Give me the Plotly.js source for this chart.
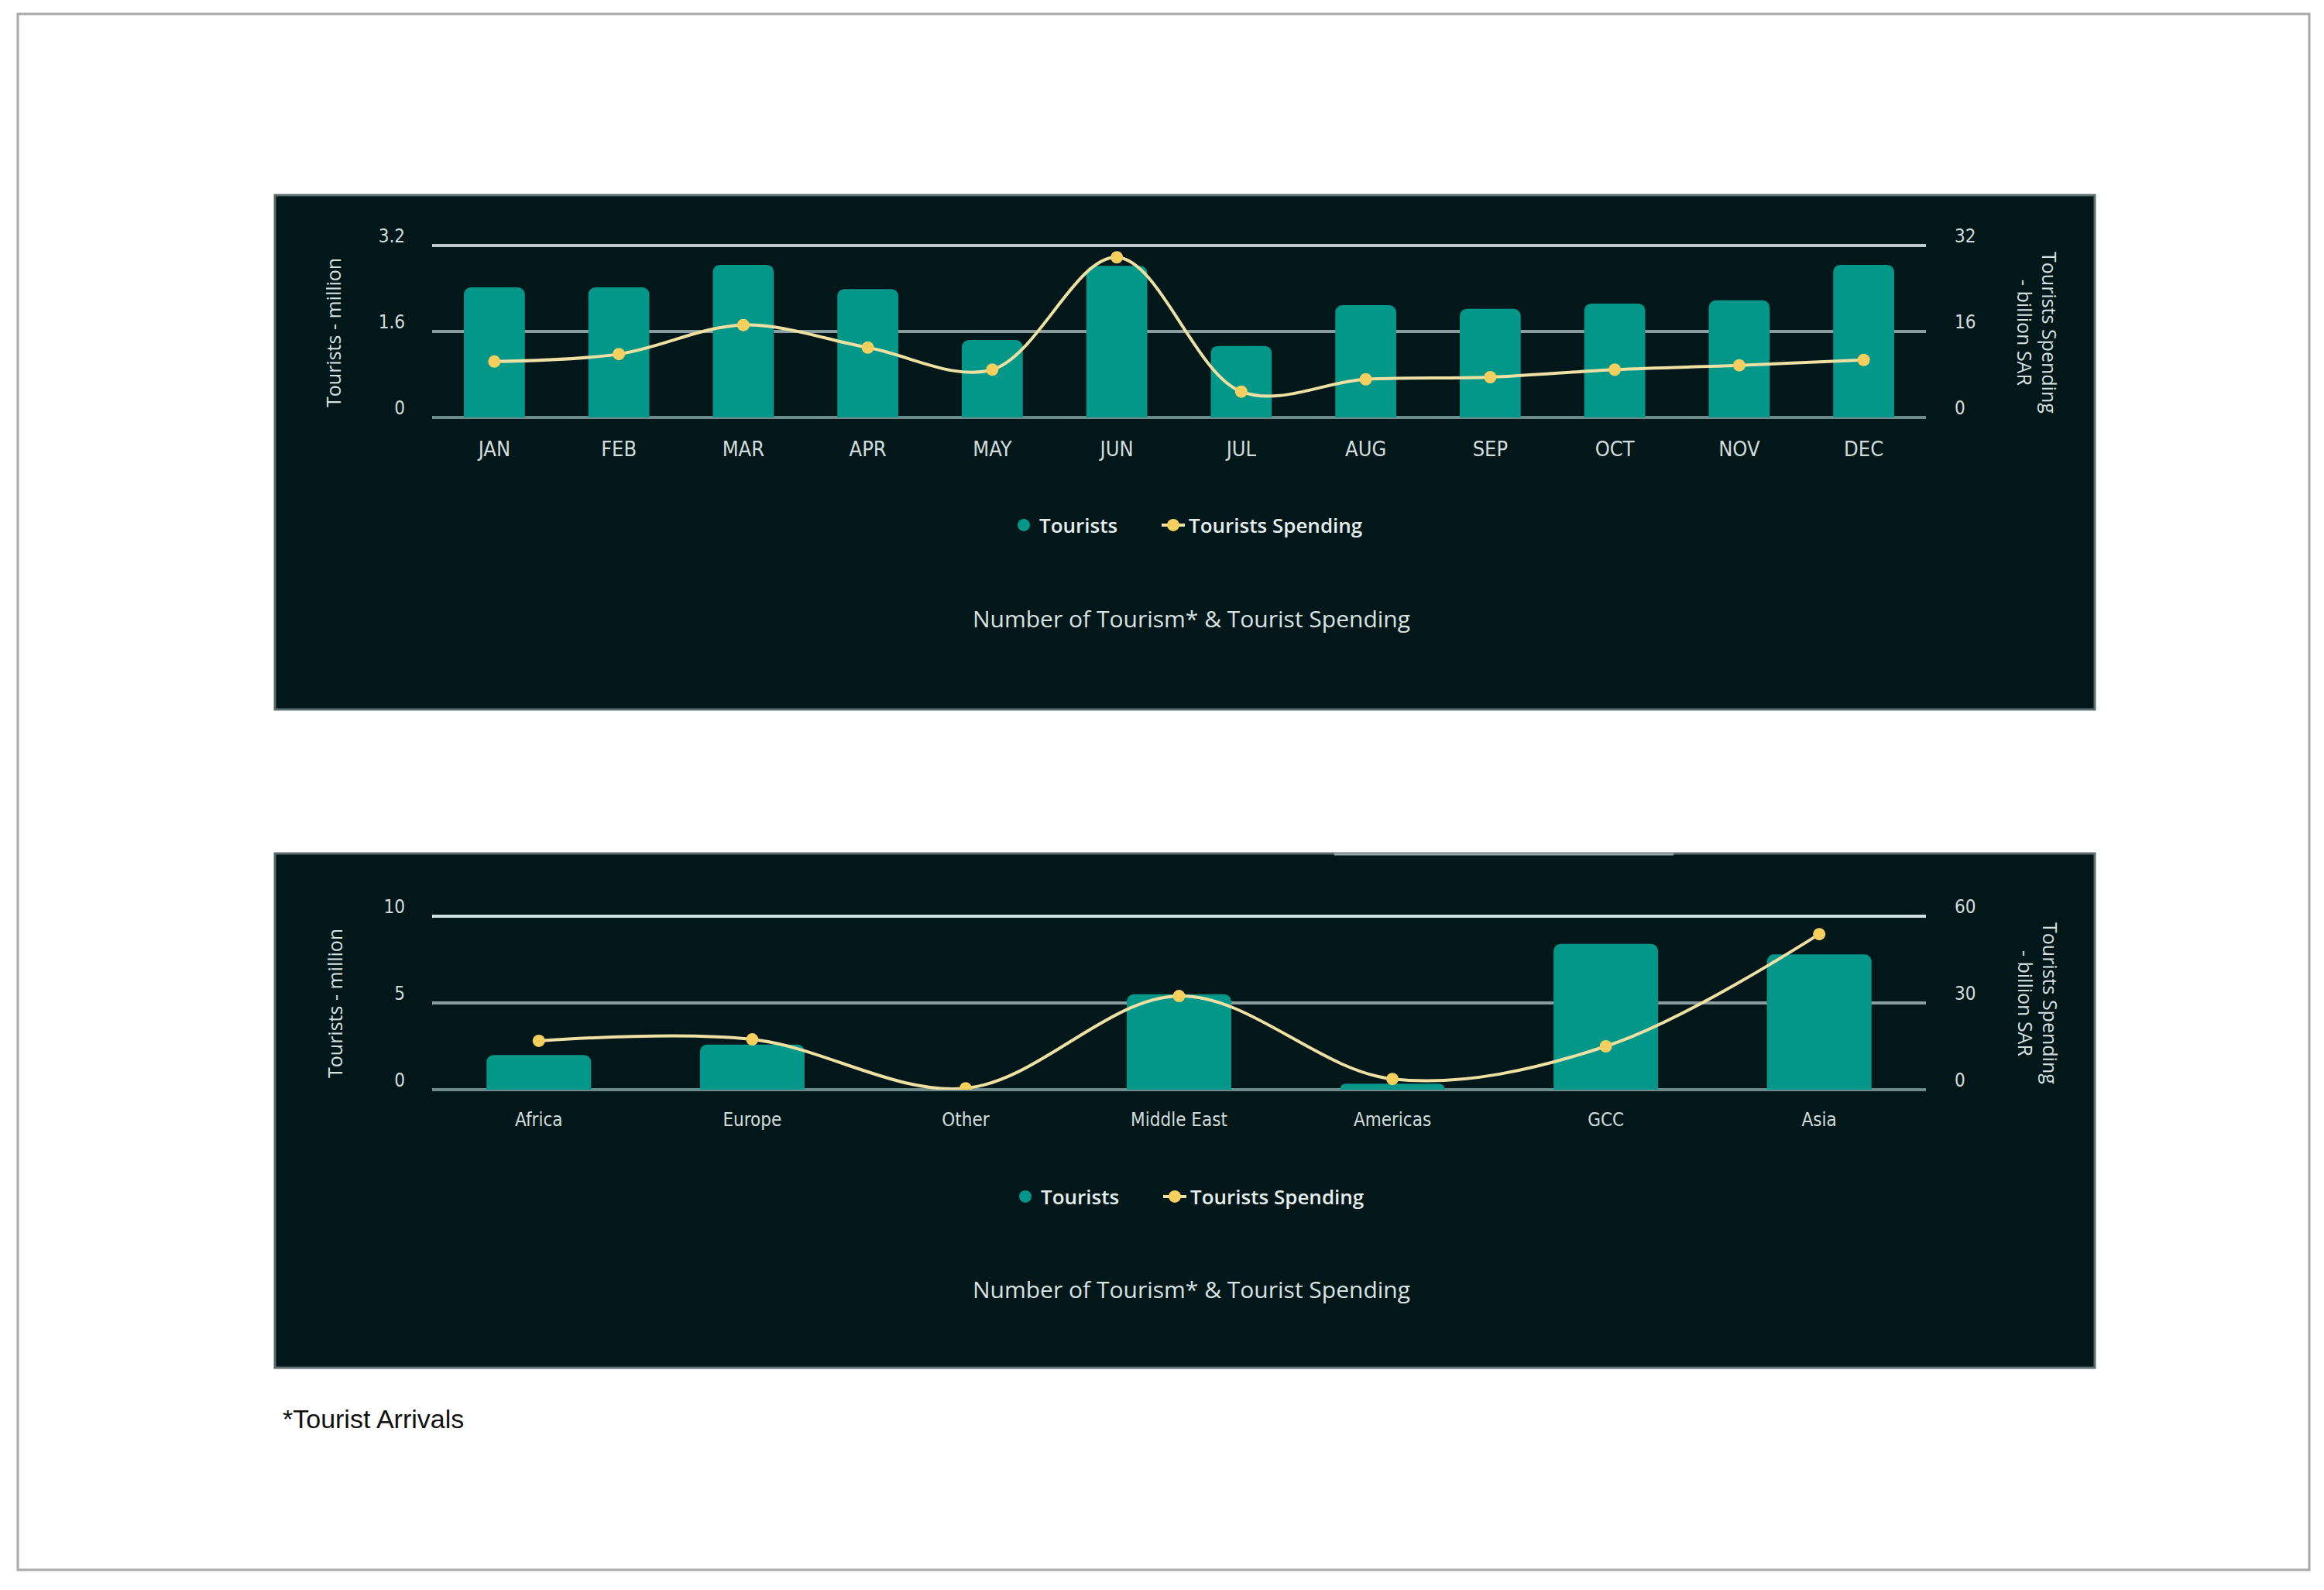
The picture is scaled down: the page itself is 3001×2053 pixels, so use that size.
<!DOCTYPE html>
<html>
<head>
<meta charset="utf-8">
<script src="https://cdn.plot.ly/plotly-3.0.1.min.js"></script>
<style>
  html, body { margin: 0; padding: 0; background: #ffffff; }
  #chart { width: 3001px; height: 2053px; }
</style>
</head>
<body>
<div id="chart"></div>
<script>
// ---------- data ----------
const months = ['JAN','FEB','MAR','APR','MAY','JUN','JUL','AUG','SEP','OCT','NOV','DEC'];
const touristsMonthly = [2.42, 2.42, 2.84, 2.39, 1.44, 2.82, 1.33, 2.09, 2.02, 2.12, 2.18, 2.84];
const spendingMonthly = [10.4, 11.8, 17.2, 13.0, 8.9, 29.8, 4.8, 7.1, 7.5, 8.9, 9.7, 10.7];

const regions = ['Africa','Europe','Other','Middle East','Americas','GCC','Asia'];
const touristsRegion = [2.0, 2.6, 0.0, 5.5, 0.35, 8.4, 7.8];
const spendingRegion = [16.9, 17.4, 0.5, 32.4, 3.7, 15.0, 53.8];

const leftTicksTop = [0, 1.6, 3.2];
const rightTicksTop = [0, 16, 32];
const leftTicksBottom = [0, 5, 10];
const rightTicksBottom = [0, 30, 60];

const legendNames = ['Tourists', 'Tourists Spending'];
const chartTitle = 'Number of Tourism* & Tourist Spending';
const leftTitle = 'Tourists - million';
const rightTitle = 'Tourists Spending<br>- billion SAR';
const footnote = '*Tourist Arrivals';

// ---------- styling ----------
const W = 3001, H = 2053;
const px = v => v / W;
const py = v => 1 - v / H;

const TEAL = '#03978a';
const LINE = '#eee0a2';
const MARK = '#f6cf5e';
const PANEL = '#02171a';
const TICKC = '#d3dcdc';
const GRID = '#8a9e9f';
const ZERO = '#6d8a8c';
const FAM = 'Liberation Sans Narrow, DejaVu Sans Condensed, Open Sans, sans-serif';
const tickFont = {family: FAM, size: 24, color: TICKC, weight: 500};
const monthFont = {family: FAM, size: 27, color: TICKC, weight: 500};
const textFont = {family: 'Open Sans, Noto Sans, sans-serif', size: 25, color: '#d8e0e0'};

const xDom = [px(558), px(2487)];
const yDomTop = [py(539), py(317)];
const yDomBot = [py(1407), py(1183)];

function barTrace(x, y, xa, ya) {
  return {type: 'bar', x: x, y: y, xaxis: xa, yaxis: ya, marker: {color: TEAL},
          name: legendNames[0], showlegend: false, hoverinfo: 'x+y'};
}
function legendDot(xa, ya, legend) {
  return {type: 'scatter', mode: 'markers', x: [null], y: [null], xaxis: xa, yaxis: ya,
          marker: {color: TEAL, size: 30, symbol: 'circle'}, name: legendNames[0],
          legend: legend, showlegend: true};
}
function lineTrace(x, y, xa, ya, legend) {
  return {type: 'scatter', mode: 'lines+markers', x: x, y: y, xaxis: xa, yaxis: ya,
          line: {color: LINE, width: 4, shape: 'spline', smoothing: 1},
          marker: {color: MARK, size: 16},
          name: legendNames[1], legend: legend, showlegend: true};
}

const data = [
  barTrace(months, touristsMonthly, 'x', 'y'),
  legendDot('x', 'y', 'legend'),
  lineTrace(months, spendingMonthly, 'x', 'y2', 'legend2'),
  barTrace(regions, touristsRegion, 'x3', 'y3'),
  legendDot('x3', 'y3', 'legend3'),
  lineTrace(regions, spendingRegion, 'x3', 'y4', 'legend4')
];

function xAxis(anchor, n, font) {
  return {domain: xDom, anchor: anchor, range: [-0.5, n - 0.5], autorange: false,
          showgrid: false, zeroline: false, showline: false,
          ticks: '', tickfont: font, ticklabelstandoff: 22, fixedrange: true};
}
function yLeft(dom, range, vals, extra) {
  return Object.assign({domain: dom, range: range, autorange: false, tickvals: vals, ticktext: vals.map(String),
          showgrid: true, gridcolor: GRID, gridwidth: 4, zeroline: true, zerolinecolor: ZERO,
          zerolinewidth: 4, showline: false, ticks: '', tickfont: tickFont,
          ticklabelstandoff: 34, ticklabelshift: -12}, extra);
}
function yRight(overlay, anchor, range, vals) {
  return {overlaying: overlay, anchor: anchor, side: 'right', range: range, autorange: false, tickvals: vals,
          ticktext: vals.map(String), showgrid: false, zeroline: false, showline: false,
          ticks: '', tickfont: tickFont, ticklabelstandoff: 36, ticklabelshift: -12};
}

const shapes = [
  // page border
  {type: 'rect', xref: 'paper', yref: 'paper', x0: px(23), x1: px(2982), y0: py(2027), y1: py(18),
   line: {color: '#a8a8a8', width: 3}, fillcolor: 'rgba(0,0,0,0)', layer: 'below'},
  // panels
  {type: 'rect', xref: 'paper', yref: 'paper', x0: px(355), x1: px(2705), y0: py(916), y1: py(252),
   line: {color: '#5c6d6e', width: 3}, fillcolor: PANEL, layer: 'below'},
  {type: 'rect', xref: 'paper', yref: 'paper', x0: px(355), x1: px(2705), y0: py(1766), y1: py(1102),
   line: {color: '#5c6d6e', width: 3}, fillcolor: PANEL, layer: 'below'},
  {type: 'line', xref: 'paper', yref: 'paper', x0: px(1723), x1: px(2161), y0: py(1103), y1: py(1103),
   line: {color: '#9aa8ad', width: 3}, layer: 'below'},
  // brighter top gridlines
  {type: 'line', xref: 'x domain', yref: 'y domain', x0: 0, x1: 1, y0: 1, y1: 1,
   line: {color: '#bccacb', width: 4}, layer: 'below'},
  {type: 'line', xref: 'x3 domain', yref: 'y3 domain', x0: 0, x1: 1, y0: 1, y1: 1,
   line: {color: '#cfe0df', width: 4}, layer: 'below'}
];

function titleAnn(yc) {
  return {xref: 'paper', yref: 'paper', x: px(1538), y: py(yc), xanchor: 'center', yanchor: 'middle',
          text: chartTitle, showarrow: false,
          font: {family: 'Open Sans, Noto Sans, sans-serif', size: 30, color: '#d9e1e1'}};
}
function leftAnn(xc, yc) {
  return {xref: 'paper', yref: 'paper', x: px(xc), y: py(yc), xanchor: 'center', yanchor: 'middle',
          text: leftTitle, textangle: -90, showarrow: false, font: textFont};
}
function rightAnn(xc, yc) {
  return {xref: 'paper', yref: 'paper', x: px(xc), y: py(yc), xanchor: 'center', yanchor: 'middle',
          text: rightTitle, textangle: 90, showarrow: false, align: 'center', font: textFont};
}

const legendFont = {family: 'Open Sans, Noto Sans, sans-serif', size: 26, weight: 600, color: '#e6eded'};
function legendBox(xl, yc) {
  return {orientation: 'h', x: px(xl), y: py(yc), xanchor: 'left', yanchor: 'middle',
          bgcolor: 'rgba(0,0,0,0)', font: legendFont, borderwidth: 0};
}
const layout = {
  width: W, height: H,
  margin: {l: 0, r: 0, t: 0, b: 0, pad: 0},
  paper_bgcolor: '#ffffff',
  plot_bgcolor: 'rgba(0,0,0,0)',
  barmode: 'group',
  bargap: 0.51,
  barcornerradius: 9,
  xaxis: xAxis('y', months.length, monthFont),
  yaxis: yLeft(yDomTop, [0, 3.2], leftTicksTop, {}),
  yaxis2: yRight('y', 'x', [0, 32], rightTicksTop),
  xaxis3: xAxis('y3', regions.length, tickFont),
  yaxis3: yLeft(yDomBot, [0, 10], leftTicksBottom, {anchor: 'x3'}),
  yaxis4: yRight('y3', 'x3', [0, 60], rightTicksBottom),
  legend: legendBox(1302, 678),
  legend2: legendBox(1495, 678),
  legend3: legendBox(1304, 1545),
  legend4: legendBox(1497, 1545),
  shapes: shapes,
  annotations: [
    titleAnn(798), titleAnn(1664),
    leftAnn(430, 430), leftAnn(432, 1296),
    rightAnn(2631, 429), rightAnn(2632, 1295),
    {xref: 'paper', yref: 'paper', x: px(363), y: py(1832), xanchor: 'left', yanchor: 'middle',
     text: footnote, showarrow: false,
     font: {family: 'Liberation Sans, Arial, sans-serif', size: 34, color: '#111111'}}
  ],
  showlegend: true
};

Plotly.newPlot('chart', data, layout, {staticPlot: true, displayModeBar: false});
</script>
</body>
</html>
